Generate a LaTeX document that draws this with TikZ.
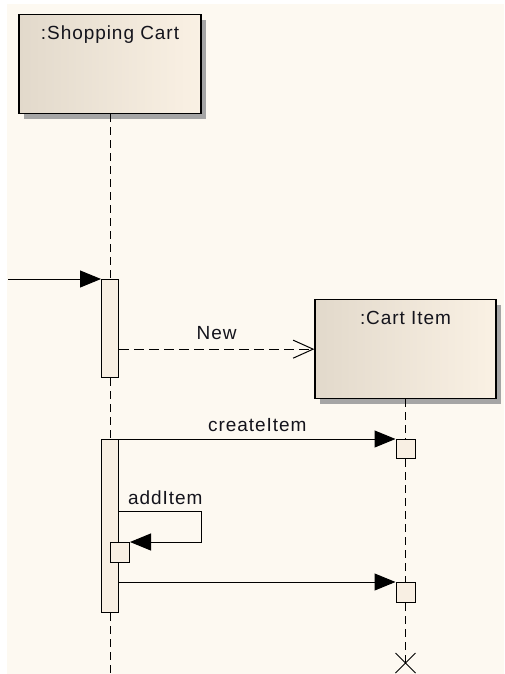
\documentclass[tikz,border=0pt]{standalone}
\usepackage{fontspec}
\newfontfamily\umlfont[LetterSpace=5]{Liberation Sans}
\usetikzlibrary{arrows.meta, positioning, shadows, calc}

\definecolor{paper}{HTML}{FDF9F1}
\definecolor{boxleft}{HTML}{E2D9CB}
\definecolor{boxright}{HTML}{FAF1E4}
\definecolor{actfill}{HTML}{F8EFE3}
\definecolor{shadowgray}{HTML}{A5A5A5}
\definecolor{inkdark}{HTML}{14141C}

\tikzset{
  umltext/.style={font=\fontsize{19}{22}\umlfont, text=inkdark, inner sep=0pt},
  objbox/.style={draw=black, line width=1.3pt, anchor=north, inner sep=0pt,
    left color=boxleft, right color=boxright,
    drop shadow={shadow xshift=5pt, shadow yshift=-5pt, fill=shadowgray, opacity=1}},
  actbar/.style={draw=black, line width=1pt, fill=actfill, anchor=north, inner sep=0pt},
  lifeline/.style={line width=1pt, dash pattern=on 8pt off 5pt},
  msg/.style={line width=1pt, -{Triangle[length=21pt,width=17pt]}},
  createmsg/.style={line width=1pt, dash pattern=on 10pt off 5pt,
    -{Straight Barb[length=20pt,width=18pt,line width=1pt]}},
}

\begin{document}
\begin{tikzpicture}[x=1pt, y=-1pt]

    \fill[white] (0,0) rectangle (504,674);
    \fill[paper] (7,4) rectangle (504,674);
    \useasboundingbox (0,0) rectangle (504,674);

    % --- objects ---
    \node[objbox, minimum width=182pt, minimum height=99pt,
          label={[umltext, anchor=north, yshift=-12pt]north::Shopping Cart}] (cart) at (110,14) {};
    \node[objbox, minimum width=181pt, minimum height=99pt,
          label={[umltext, anchor=north, yshift=-12pt]north::Cart Item}] (item) at (405.5,299) {};

    % --- activations ---
    \node[actbar, minimum width=17pt, minimum height=98pt] (act1) at (110,279) {};
    \node[actbar, minimum width=17pt, minimum height=173pt] (act2) at (110,439) {};
    \node[actbar, minimum width=19pt, minimum height=20pt, anchor=north west] (self1) at (110,542) {};
    \node[actbar, minimum width=19pt, minimum height=19pt] (ci1) at (405.5,439) {};
    \node[actbar, minimum width=19pt, minimum height=20pt] (ci2) at (405.5,582) {};

    \coordinate (src) at (8,279);
    \coordinate (cartend) at (110,674);
    \coordinate (itemend) at (405.5,663);

    % --- lifelines ---
    \draw[lifeline] (cart.south -| act1.north) -- (act1.north);
    \draw[lifeline] (act1.south) -- (act2.north);
    \draw[lifeline] (act2.south) -- (cartend);
    \draw[lifeline] (item.south) -- (ci1.north);
    \draw[lifeline] (ci1.south) -- (ci2.north);
    \draw[lifeline] (ci2.south) -- (itemend);
    \draw[line width=1pt] (itemend) +(-10,-10) -- +(10,10) +(-10,10) -- +(10,-10);

    % --- messages ---
    \draw[msg] (src) -- (act1.north west);
    \draw[createmsg] (act1.east |- item.west) -- (item.west)
        node[umltext, midway, above=9pt] {New};
    \draw[msg] (act2.north east) -- (ci1.north west)
        node[umltext, midway, above=7pt] {createItem};
    \draw[msg] ($(act2.east |- self1.north)+(0,-31)$) coordinate (selfstart)
        -- ++(82,0) |- (self1.north east);
    \node[umltext, anchor=south west] (addlbl) at ($(selfstart)+(9,-6)$) {addItem};
    \draw[msg] (act2.east |- ci2.north) -- (ci2.north west);

\end{tikzpicture}
\end{document}
